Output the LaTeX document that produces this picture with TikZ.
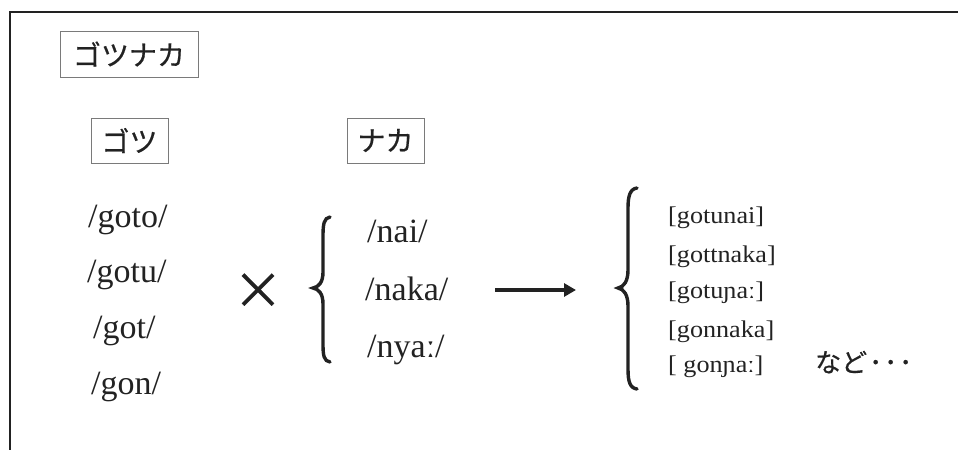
\documentclass[tikz,border=0pt]{standalone}
\usepackage{fontspec}
\setmainfont{Liberation Serif}
\newfontfamily\jpfont[FakeBold=0.6]{Noto Sans CJK JP}
\newfontfamily\ipafont[FakeStretch=1.09]{Liberation Serif}
\usetikzlibrary{arrows.meta}
\definecolor{textc}{HTML}{222222}
\definecolor{boxc}{HTML}{7A7A7A}
\begin{document}
\begin{tikzpicture}[x=1pt,y=-1pt,
  jpbox/.style={draw=boxc, line width=0.9pt, font=\jpfont\fontsize{28}{28}\selectfont, text=textc, inner sep=0pt},
  phon/.style={font=\fontsize{34}{34}\selectfont, anchor=base west, inner sep=0pt, text=textc},
  ipa/.style={font=\ipafont\fontsize{24}{24}\selectfont, anchor=base west, inner sep=0pt, text=textc},
  frame/.style={draw=textc, line width=1.8pt},
  bracestyle/.style={draw=textc, line width=3.4pt, line cap=round},
]
\useasboundingbox (0,0) rectangle (958,450);
\draw[frame] (958,12) -- (10,12) -- (10,450);

\node[jpbox, minimum width=138pt, minimum height=46pt] (title) at (129,54) {ゴツナカ};
\node[jpbox, minimum width=77pt, minimum height=45pt] (gotsu) at (129.5,140.5) {ゴツ};
\node[jpbox, minimum width=77pt, minimum height=45pt] (naka) at (385.5,140.5) {ナカ};

\node[phon] (g1) at (88,227) {/goto/};
\node[phon] (g2) at (87,282) {/gotu/};
\node[phon] (g3) at (93,338) {/got/};
\node[phon] (g4) at (91,394) {/gon/};

\node[font=\jpfont\fontsize{50}{50}\selectfont, text=textc, inner sep=0pt] (times) at (258,291) {×};

% left brace 1
\coordinate (b1t) at (330,217);
\coordinate (b1m) at (313,288);
\coordinate (b1b) at (330,362);
\draw[bracestyle] (b1t) .. controls (324,218) and (323,224) .. (323,236) -- (323,272)
  .. controls (323,282) and (319,287) .. (b1m)
  .. controls (319,289) and (323,294) .. (323,304) -- (323,344)
  .. controls (323,356) and (324,361) .. (b1b);

\node[phon] (n1) at (367,242) {/nai/};
\node[phon] (n2) at (365,300) {/naka/};
\node[phon] (n3) at (367,357) {/nyaː/};

\coordinate (a1) at (495,290);
\coordinate (a2) at (576,290);
\draw[draw=textc, line width=4pt, -{Triangle[length=12pt,width=13pt]}] (a1) -- (a2);

% left brace 2
\coordinate (b2t) at (637,188);
\coordinate (b2m) at (618,288);
\coordinate (b2b) at (637,389);
\draw[bracestyle] (b2t) .. controls (630,189) and (628,196) .. (628,208) -- (628,270)
  .. controls (628,281) and (624,287) .. (b2m)
  .. controls (624,289) and (628,295) .. (628,306) -- (628,369)
  .. controls (628,382) and (630,388) .. (b2b);

\node[ipa] (r1) at (668,223) {[gotunai]};
\node[ipa] (r2) at (668,262) {[gottnaka]};
\node[ipa] (r3) at (668,298) {[gotuɲaː]};
\node[ipa] (r4) at (668,337) {[gonnaka]};
\node[ipa] (r5) at (668,372) {[ gonɲaː]};
\node[font=\jpfont\fontsize{26}{26}\selectfont, anchor=base west, inner sep=0pt, text=textc] (nado) at (815,372) {など\kern2pt･\kern2pt･\kern2pt･};
\end{tikzpicture}
\end{document}
